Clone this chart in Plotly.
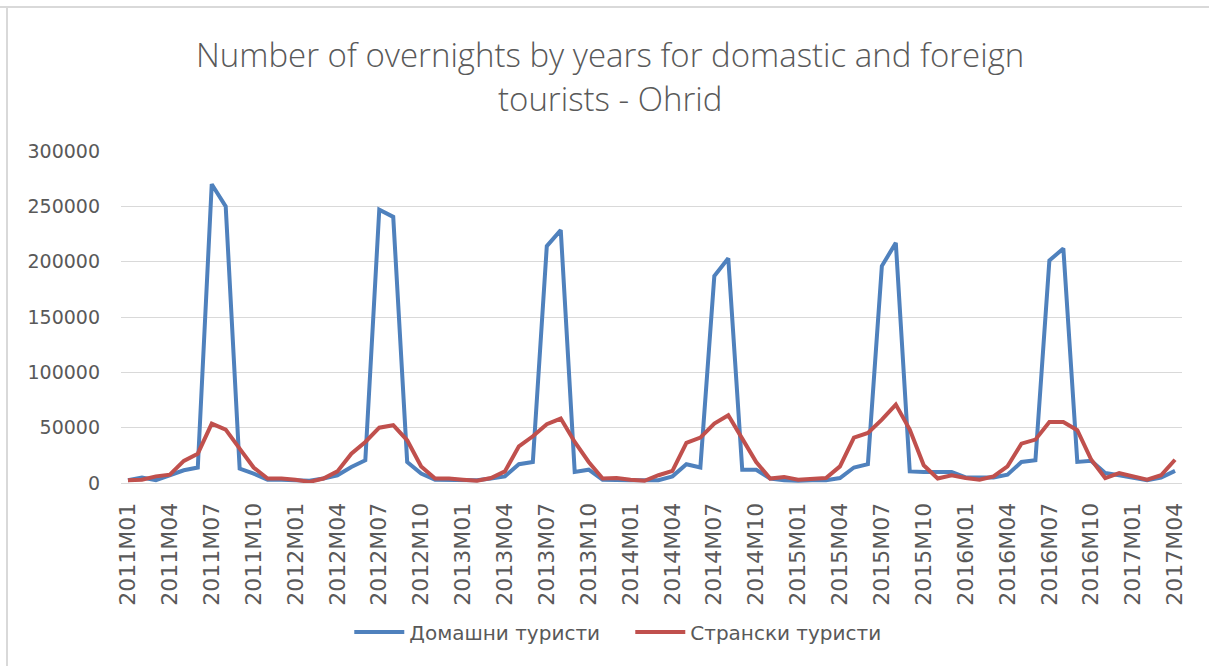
import plotly.graph_objects as go

years = [2011, 2012, 2013, 2014, 2015, 2016, 2017]
months = [f"M{m:02d}" for m in range(1, 13)]
categories = [f"{y}{m}" for y in years for m in months][:76]

domestic = [2500, 5000, 2500, 7000, 11500, 14000, 270000, 250000, 13000, 8500, 3000, 3000,
            2500, 2000, 4000, 7000, 14500, 20500, 247000, 240500, 19000, 8500, 3000, 3000,
            2500, 2500, 4000, 6000, 17000, 19000, 214000, 228500, 10000, 12000, 3000, 2500,
            2500, 2500, 2500, 6000, 17000, 14000, 187000, 203000, 12000, 12000, 4000, 2500,
            2000, 2500, 2500, 4500, 14000, 17000, 196000, 217000, 10500, 10000, 10000, 10000,
            5000, 5000, 5000, 7500, 19000, 20500, 201000, 212000, 19000, 20000, 9000, 7000,
            5000, 2500, 5000, 11000]

foreign = [2500, 3000, 6000, 7500, 20000, 26500, 53700, 48300, 31000, 14000, 4000, 4000,
           3000, 1000, 4000, 10500, 26500, 37100, 50000, 52200, 38600, 15000, 4000, 4000,
           3000, 2000, 4500, 10500, 33200, 42200, 53100, 58200, 37100, 19000, 4000, 4500,
           3000, 2000, 7000, 11000, 36200, 41000, 53700, 61200, 40100, 19000, 4000, 5500,
           3000, 4000, 4500, 15000, 41000, 45200, 57300, 70900, 48300, 16000, 4000, 7000,
           4500, 3000, 6000, 15000, 35600, 39200, 55200, 55200, 47700, 21000, 4500, 9000,
           6000, 3000, 7000, 21000]

series_names = ["Домашни туристи", "Странски туристи"]
title_lines = ["Number of overnights by years for domastic and foreign", "tourists - Ohrid"]
tick_labels = categories[::3]
y_ticks = [0, 50000, 100000, 150000, 200000, 250000, 300000]

fig = go.Figure()
fig.add_trace(go.Scatter(x=categories, y=domestic, mode="lines", name=series_names[0],
                         line=dict(color="#4F81BD", width=4)))
fig.add_trace(go.Scatter(x=categories, y=foreign, mode="lines", name=series_names[1],
                         line=dict(color="#C0504D", width=4)))

grey = "#595959"
W, H = 1209, 666
fig.update_layout(
    width=W, height=H,
    margin=dict(l=121, r=27, t=151, b=183),
    paper_bgcolor="white", plot_bgcolor="white",
    xaxis=dict(type="category", categoryorder="array", categoryarray=categories,
               range=[-0.5, 75.5], tickmode="array", tickvals=tick_labels, ticktext=tick_labels,
               tickangle=-90, showgrid=False, showline=True, linecolor="#d9d9d9", linewidth=1,
               ticks="", ticklabelstandoff=10,
               tickfont=dict(family="DejaVu Sans", size=22, color=grey)),
    yaxis=dict(range=[0, 300000], tickmode="array", tickvals=y_ticks,
               ticktext=[str(v) for v in y_ticks],
               showgrid=True, gridcolor="#d9d9d9", gridwidth=1, zeroline=False,
               ticks="", ticklabelstandoff=20,
               tickfont=dict(family="DejaVu Sans", size=19, color=grey)),
    legend=dict(orientation="h", x=0.480, xanchor="center", y=-0.449, yanchor="middle",
                font=dict(family="DejaVu Sans", size=20, color=grey),
                itemwidth=50, entrywidth=216, entrywidthmode="pixels", tracegroupgap=0),
    showlegend=True,
)

for text, ypix in zip(title_lines, [55, 98]):
    fig.add_annotation(text=text, xref="paper", yref="paper",
                       x=(610 - 121) / 1061, y=(483 - ypix) / 332,
                       xanchor="center", yanchor="middle", showarrow=False,
                       font=dict(family="Open Sans", size=33, color=grey, weight=300))

fig.add_shape(type="line", xref="paper", yref="paper", x0=-121 / 1061, x1=1.2,
              y0=(483 - 7) / 332, y1=(483 - 7) / 332, line=dict(color="#d9d9d9", width=2))
fig.add_shape(type="line", xref="paper", yref="paper", x0=-114 / 1061, x1=-114 / 1061,
              y0=(483 - 7) / 332, y1=-0.7, line=dict(color="#d9d9d9", width=2))

fig.write_html("out.html")
